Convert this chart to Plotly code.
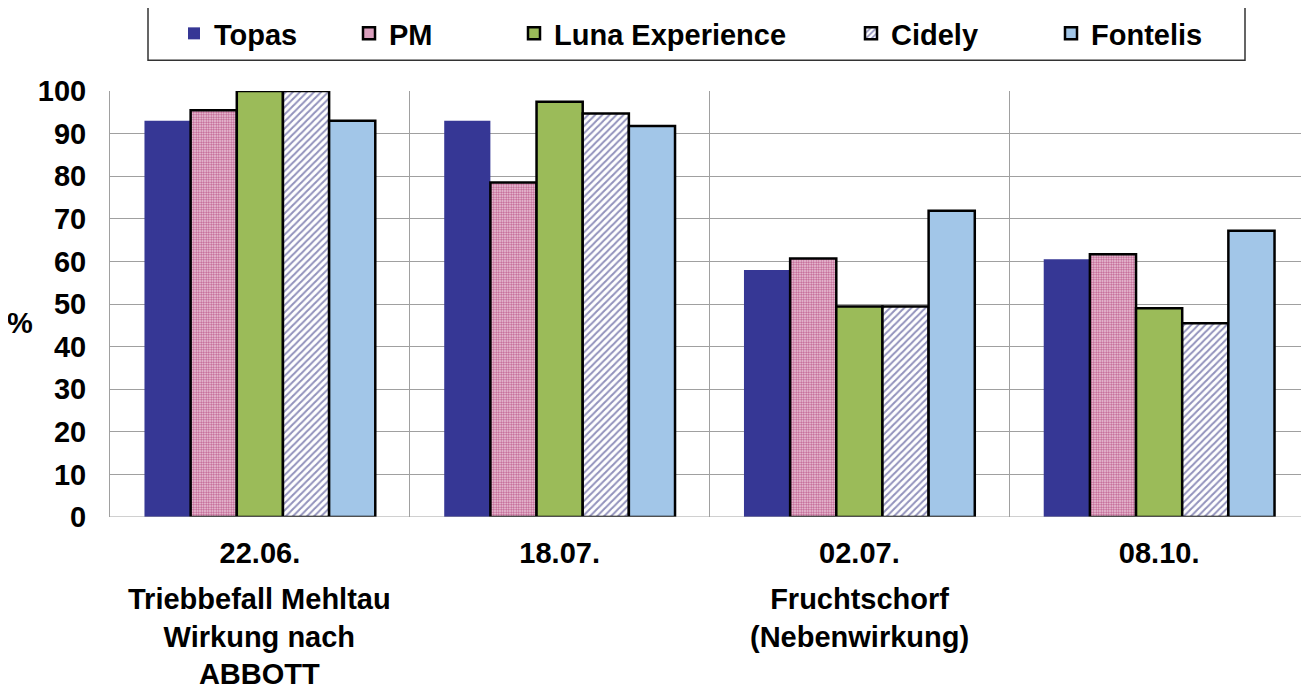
import plotly.graph_objects as go

dates = ["22.06.", "18.07.", "02.07.", "08.10."]
subtitles = ["Triebbefall Mehltau<br>Wirkung nach<br>ABBOTT", "",
             "Fruchtschorf<br>(Nebenwirkung)", ""]
topas = [93, 93, 58, 60.5]
pm = [95.5, 78.5, 60.7, 61.7]
luna = [100, 97.5, 49.4, 49]
cidely = [100, 94.7, 49.4, 45.5]
fontelis = [93, 91.8, 71.9, 67.2]
y_ticks = [0, 10, 20, 30, 40, 50, 60, 70, 80, 90, 100]

xpos = list(range(len(dates)))
FONT = "Arial, Liberation Sans, sans-serif"
FS = 29

# The page body has an 8px margin, so the figure starts at (8, 8) on screen.
OFF = 8
# plot area in screen pixels
PL, PW, PT, PH = 110, 1199, 88, 429
def px_x(p):
    return (p - PL) / PW
def px_y(p):
    return 1 + (PT - p) / PH

fig = go.Figure()
fig.add_trace(go.Bar(name="Topas", x=xpos, y=topas, legend="legend",
                     marker=dict(color="#363795", line=dict(width=0))))
fig.add_trace(go.Bar(name="PM", x=xpos, y=pm, legend="legend2",
                     marker=dict(color="#C56A97", line=dict(color="black", width=2.5),
                                 pattern=dict(shape=".", bgcolor="#F0D6E3", fgcolor="#BE5A8C",
                                              size=2.5, solidity=0.5, fillmode="replace"))))
fig.add_trace(go.Bar(name="Luna Experience", x=xpos, y=luna, legend="legend3",
                     marker=dict(color="#9BBB59", line=dict(color="black", width=2.5))))
fig.add_trace(go.Bar(name="Cidely", x=xpos, y=cidely, legend="legend4",
                     marker=dict(color="#9292BC", line=dict(color="black", width=2.5),
                                 pattern=dict(shape="/", bgcolor="white", fgcolor="#9292BC",
                                              size=5, solidity=0.4, fillmode="replace"))))
fig.add_trace(go.Bar(name="Fontelis", x=xpos, y=fontelis, legend="legend5",
                     marker=dict(color="#A2C6E8", line=dict(color="black", width=2.5))))

text_px = [215, 390, 555, 892, 1092]
legend_cfg = {}
for i, p in enumerate(text_px):
    key = "legend" if i == 0 else f"legend{i+1}"
    legend_cfg[key] = dict(orientation="h", x=px_x(p - 41), xanchor="left",
                           y=px_y(30), yanchor="middle", bgcolor="rgba(0,0,0,0)",
                           borderwidth=0, itemwidth=30,
                           font=dict(size=FS, family=FONT, weight="bold", color="black"))

annotations = [dict(text="%", xref="paper", yref="paper", x=px_x(20), y=0.455,
                    xanchor="center", yanchor="middle", showarrow=False,
                    font=dict(size=FS, family=FONT, weight="bold"))]
for i, s in enumerate(subtitles):
    if not s:
        continue
    nlines = s.count("<br>") + 1
    center_px = 600 + (nlines - 1) * 37.7 / 2
    annotations.append(dict(text=s, x=xpos[i], xref="x", yref="paper",
                            y=(517 - center_px) / PH, xanchor="center", yanchor="middle",
                            showarrow=False, align="center",
                            font=dict(size=FS, family=FONT, weight="bold", color="black")))

fig.update_layout(
    width=1309 - OFF, height=693 - OFF,
    showlegend=True,
    barmode="group", bargap=0.23, bargroupgap=0,
    plot_bgcolor="white", paper_bgcolor="white",
    margin=dict(l=PL - OFF, r=0, t=PT - OFF, b=693 - (PT + PH)),
    font=dict(family=FONT, size=FS, color="black", weight="bold"),
    xaxis=dict(tickmode="array", tickvals=xpos, ticktext=dates,
               range=[-0.5, 3.5], showgrid=False, zeroline=False, automargin=False,
               ticks="", showline=False, ticklabelstandoff=16,
               minor=dict(tickmode="array", tickvals=[-0.5, 0.5, 1.5, 2.5, 3.5],
                          showgrid=True, gridcolor="#A0A0A0", gridwidth=1, ticks=""),
               tickfont=dict(size=FS, family=FONT, weight="bold")),
    yaxis=dict(range=[0, 100], tickvals=y_ticks, showgrid=True, gridcolor="#A0A0A0",
               gridwidth=1, zeroline=False, showline=True, linecolor="#A0A0A0",
               ticks="", automargin=False, ticklabelstandoff=17,
               tickfont=dict(size=FS, family=FONT, weight="bold")),
    annotations=annotations,
    **legend_cfg,
)
fig.add_shape(type="line", xref="paper", yref="y", x0=0, x1=1, y0=0, y1=0,
              line=dict(color="#A0A0A0", width=1))
fig.add_shape(type="rect", xref="paper", yref="paper",
              x0=px_x(148), x1=px_x(1245), y0=px_y(57), y1=px_y(3),
              line=dict(color="#333333", width=1.5), fillcolor="rgba(0,0,0,0)", layer="above")

fig.write_html("out.html")
